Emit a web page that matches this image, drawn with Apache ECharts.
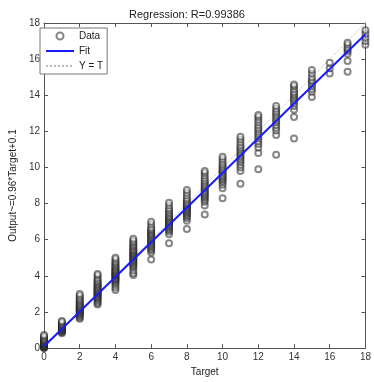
<!DOCTYPE html>
<html>
<head>
<meta charset="utf-8">
<script src="https://cdn.jsdelivr.net/npm/echarts@6/dist/echarts.min.js"></script>
<style>
  html, body { margin: 0; padding: 0; background: #fff; }
  #main { width: 374px; height: 382px; }
</style>
</head>
<body>
<div id="main"></div>
<script>
// targets along x, each has a column of network outputs
const targets = [0, 1, 2, 3, 4, 5, 6, 7, 8, 9, 10, 11, 12, 13, 14, 15, 16, 17, 18];
const outputs = [
  [0.0, 0.02, 0.05, 0.08, 0.1, 0.12, 0.15, 0.18, 0.2, 0.22, 0.25, 0.28, 0.3, 0.33, 0.36, 0.4, 0.44, 0.48, 0.52, 0.58, 0.65, 0.72],
  [0.82, 0.88, 0.92, 0.96, 1.0, 1.03, 1.06, 1.1, 1.13, 1.16, 1.2, 1.24, 1.28, 1.32, 1.38, 1.44, 1.5],
  [1.62, 1.7, 1.78, 1.84, 1.9, 1.95, 2.0, 2.04, 2.08, 2.12, 2.16, 2.2, 2.25, 2.3, 2.35, 2.4, 2.46, 2.52, 2.58, 2.65, 2.72, 2.8, 2.9, 3.0],
  [2.42, 2.5, 2.6, 2.68, 2.75, 2.8, 2.86, 2.9, 2.95, 3.0, 3.04, 3.08, 3.12, 3.16, 3.2, 3.25, 3.3, 3.35, 3.4, 3.46, 3.52, 3.58, 3.65, 3.72, 3.8, 3.9, 4.02, 4.1],
  [3.22, 3.35, 3.5, 3.6, 3.68, 3.75, 3.8, 3.85, 3.9, 3.95, 4.0, 4.04, 4.08, 4.12, 4.16, 4.2, 4.25, 4.3, 4.35, 4.4, 4.46, 4.52, 4.58, 4.65, 4.72, 4.8, 4.9, 5.0],
  [4.05, 4.15, 4.3, 4.45, 4.55, 4.62, 4.7, 4.76, 4.82, 4.88, 4.94, 5.0, 5.05, 5.1, 5.15, 5.2, 5.25, 5.3, 5.36, 5.42, 5.48, 5.55, 5.62, 5.7, 5.78, 5.86, 5.95, 6.05],
  [4.9, 5.3, 5.42, 5.5, 5.58, 5.65, 5.72, 5.78, 5.84, 5.9, 5.96, 6.02, 6.08, 6.14, 6.2, 6.26, 6.32, 6.38, 6.45, 6.52, 6.6, 6.68, 6.85, 7.0],
  [5.8, 6.3, 6.45, 6.55, 6.62, 6.7, 6.76, 6.82, 6.88, 6.94, 7.0, 7.06, 7.12, 7.18, 7.24, 7.3, 7.38, 7.46, 7.55, 7.65, 7.75, 7.9, 8.05],
  [6.6, 7.05, 7.2, 7.3, 7.38, 7.45, 7.52, 7.58, 7.64, 7.7, 7.76, 7.82, 7.88, 7.95, 8.02, 8.1, 8.2, 8.3, 8.45, 8.6, 8.75],
  [7.4, 7.9, 8.1, 8.22, 8.32, 8.4, 8.48, 8.55, 8.62, 8.7, 8.78, 8.86, 8.94, 9.02, 9.1, 9.2, 9.3, 9.42, 9.55, 9.7, 9.8],
  [8.3, 8.85, 9.05, 9.18, 9.28, 9.36, 9.44, 9.52, 9.6, 9.68, 9.76, 9.84, 9.92, 10.0, 10.1, 10.2, 10.32, 10.45, 10.6],
  [9.1, 9.8, 10.0, 10.15, 10.3, 10.42, 10.52, 10.62, 10.72, 10.82, 10.92, 11.02, 11.12, 11.25, 11.4, 11.55, 11.7],
  [9.9, 10.8, 11.1, 11.3, 11.45, 11.6, 11.72, 11.85, 11.98, 12.1, 12.22, 12.35, 12.5, 12.65, 12.8, 12.9],
  [10.7, 11.8, 12.05, 12.2, 12.35, 12.5, 12.62, 12.75, 12.88, 13.0, 13.12, 13.25, 13.4],
  [11.6, 12.8, 13.2, 13.4, 13.55, 13.7, 13.8, 13.9, 14.0, 14.1, 14.2, 14.35, 14.5, 14.6],
  [13.9, 14.2, 14.35, 14.5, 14.62, 14.75, 14.85, 15.0, 15.2, 15.4],
  [15.2, 15.5, 15.8],
  [15.3, 15.9, 16.3, 16.45, 16.55, 16.65, 16.8, 16.9],
  [16.8, 17.0, 17.2, 17.4, 17.6]
];

// fit line end points and the Y = T line
const fitX = [0, 18];
const fitY = [0.1, 17.38];
const identX = [0, 18];
const identY = [0, 18];

const scatterData = [];
outputs.forEach((vals, i) => {
  vals.forEach(v => scatterData.push([targets[i], v]));
});

const font = "Liberation Sans, Arial, sans-serif";

const myChart = echarts.init(document.getElementById("main"));

const baseAxis = {
  type: "value",
  min: 0,
  max: 18,
  interval: 2,
  axisLine: { show: true, onZero: false, lineStyle: { color: "#555", width: 1 } },
  axisTick: { show: true, inside: true, length: 4, lineStyle: { color: "#555" } },
  splitLine: { show: false },
};

const option = {
  animation: false,
  backgroundColor: "#fff",
  title: {
    text: "Regression: R=0.99386",
    left: "center",
    top: 4,
    textStyle: { fontFamily: font, fontSize: 11, fontWeight: "normal", color: "#222" },
  },
  grid: { left: 35, right: 7, top: 23, bottom: 26 },
  legend: {
    left: 40,
    top: 28,
    orient: "vertical",
    itemWidth: 28,
    itemHeight: 7,
    itemGap: 5,
    padding: [3, 4, 3, 5],
    borderColor: "#777",
    borderWidth: 1,
    backgroundColor: "#fff",
    textStyle: { fontFamily: font, fontSize: 10, color: "#222" },
    data: [
      { name: "Data", icon: "emptyCircle" },
      { name: "Fit", itemStyle: { opacity: 0 } },
      { name: "Y = T", itemStyle: { opacity: 0 } },
    ],
  },
  xAxis: [
    Object.assign({}, baseAxis, {
      position: "bottom",
      name: "Target",
      nameLocation: "middle",
      nameGap: 16,
      nameTextStyle: { fontFamily: font, fontSize: 10, color: "#222" },
      axisLabel: { fontFamily: font, fontSize: 10, color: "#333", margin: 4 },
    }),
    Object.assign({}, baseAxis, { position: "top", axisLabel: { show: false } }),
  ],
  yAxis: [
    Object.assign({}, baseAxis, {
      position: "left",
      name: "Output~=0.96*Target+0.1",
      nameLocation: "middle",
      nameGap: 19,
      nameTextStyle: { fontFamily: font, fontSize: 10, color: "#222" },
      axisLabel: { fontFamily: font, fontSize: 10, color: "#333", margin: 4 },
    }),
    Object.assign({}, baseAxis, { position: "right", axisLabel: { show: false } }),
  ],
  series: [
    {
      name: "Y = T",
      type: "line",
      symbol: "none",
      data: identX.map((x, i) => [x, identY[i]]),
      lineStyle: { color: "#bbb", width: 1, type: "dotted" },
      itemStyle: { color: "#bbb" },
      z: 1,
    },
    {
      name: "Data",
      type: "scatter",
      symbol: "emptyCircle",
      symbolSize: 6,
      data: scatterData,
      itemStyle: { color: "#222", borderColor: "#222", borderWidth: 1, opacity: 0.55 },
      z: 2,
    },
    {
      name: "Fit",
      type: "line",
      symbol: "none",
      data: fitX.map((x, i) => [x, fitY[i]]),
      lineStyle: { color: "#1a1aff", width: 2 },
      itemStyle: { color: "#1a1aff" },
      z: 3,
    },
  ],
};

myChart.setOption(option);
</script>
</body>
</html>
